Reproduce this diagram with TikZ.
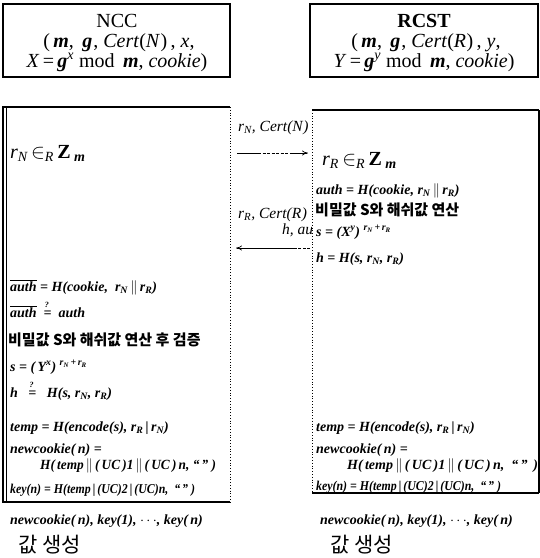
\documentclass[tikz,border=0pt]{standalone}
\usepackage{fontspec}
\setmainfont{Liberation Serif}
\newfontfamily\kr{Noto Sans CJK KR}
\usetikzlibrary{arrows.meta}
\newcommand\bi[1]{\textbf{\textit{#1}}}
\newcommand\sbs[1]{\textsubscript{\bi{#1}}}
\newcommand\dbr{\,$\|$\,}
\newcommand\sbr{\,\textbf{|}\,}
\newcommand\qeq{\rlap{\kern1.2pt\raisebox{9.5pt}{\fontsize{8}{8}\selectfont ?}}=}
\begin{document}
\begin{tikzpicture}[x=1pt,y=-1pt,
  frm/.style={font=\fontsize{14}{16}\selectfont\bfseries\itshape, anchor=base west, inner sep=0},
  frmsm/.style={font=\fontsize{13.5}{15}\selectfont\bfseries\itshape, anchor=base west, inner sep=0, xscale=0.88},
  big/.style={font=\fontsize{20}{22}\selectfont\itshape, anchor=base west, inner sep=0},
  krt/.style={font=\fontsize{15}{17}\selectfont\kr\bfseries, anchor=base west, inner sep=0},
  krb/.style={font=\fontsize{21}{23}\selectfont\kr, anchor=base west, inner sep=0},
  msg/.style={font=\fontsize{15.5}{17}\selectfont\itshape, anchor=base west, inner sep=0},
  head/.style={font=\fontsize{20}{22}\selectfont, anchor=base, inner sep=0},
  thick border/.style={line width=1.8pt},
  dotborder/.style={line width=0.8pt, dotted},
  arr/.style={line width=0.7pt}
]
\useasboundingbox (0,0) rectangle (540,558);

% ---- top boxes ----
\draw[thick border] (3,4) rectangle (230,77);
\node[head] (ncc) at (117,27) {NCC};
\node[head] (ncc2) at (119,47) {(\,\bi{m}, \,\bi{g}\kern1pt, \textit{Cert}(\textit{N}\kern0.5pt)\,, \textit{x},};
\node[head] (ncc3) at (117,67) {\textit{X}\,=\,\bi{g}\textsuperscript{\textit{x}} mod \,\bi{m}, \textit{cookie})};

\draw[thick border] (310,4) rectangle (538,77);
\node[head] (rcst) at (424,27) {\textbf{RCST}};
\node[head] (rcst2) at (426,47) {(\,\bi{m}, \,\bi{g}\kern1pt, \textit{Cert}(\textit{R}\kern0.5pt)\,, \textit{y},};
\node[head] (rcst3) at (424,67) {\textit{Y}\,=\,\bi{g}\textsuperscript{\textit{y}} mod \,\bi{m}, \textit{cookie})};

% ---- left party box ----
\draw[thick border] (230,107) -- (3,107) -- (3,502) -- (230,502);
\draw[line width=0.6pt] (6,107) -- (6,502);
\draw[dotborder] (230,107) -- (230,502);

\node[big] (rn) at (10,158) {\textit{r}\textsubscript{\textit{N}}\,$\in$\textsubscript{\textit{R}}\,\textbf{\textup{Z}}\,\textsubscript{\bi{m}}};
\node[frm] (authb) at (10,291) {$\overline{\mbox{\bfseries\itshape auth}}$ = \bi{H}(\textit{cookie}, \ \textit{r}\sbs{N}\dbr\textit{r}\sbs{R})};
\node[frm] (authq) at (10,317) {$\overline{\mbox{\bfseries\itshape auth}}$ \ \qeq\ \ \bi{auth}};
\node[krt] (krl) at (8,345) {비밀값 S와 해쉬값 연산 후 검증};
\node[frm] (sl) at (10,371) {\bi{s} = (\,\bi{Y}\textsuperscript{\textit{x}}) \textsuperscript{\textit{r}\textsubscript{N}\,+\,\textit{r}\textsubscript{R}}};
\node[frm] (hl) at (10,397) {\bi{h} \ \ \qeq\ \ \ \bi{H}(\bi{s}, \textit{r}\sbs{N}, \textit{r}\sbs{R})};
\node[frm] (tl) at (10,431) {\bi{temp} = \bi{H}(\bi{encode}(\textit{s}), \textit{r}\sbs{R}\sbr\textit{r}\sbs{N})};
\node[frm] (ncl) at (10,453) {\bi{newcookie}(\,\bi{n}) =};
\node[frm, xscale=0.95] (ncl2) at (40,469) {\bi{H}(\,\bi{temp}\dbr(\,\textit{UC}\,)1\dbr(\,\textit{UC}\,)\,\bi{n}, ``\,'' )};
\node[frmsm] (kl) at (10,493) {\bi{key}(\bi{n}) = \bi{H}(\bi{temp}\sbr(\textit{UC})2\sbr(\textit{UC})\bi{n}, \ ``\,'' )};
\node[frm] (outl) at (10,524) {\bi{newcookie}(\,\bi{n}), \bi{key}(1), $\cdots$, \bi{key}(\,\bi{n})};
\node[krb] (genl) at (18,552) {값 생성};

% ---- messages ----
\node[msg] (m1) at (238,131) {\textit{r}\textsubscript{\textit{N}}, \textit{Cert}(\textit{N}\kern0.5pt)};
\node[msg] (m2) at (238,218) {\textit{r}\textsubscript{\textit{R}}, \textit{Cert}(\textit{R}\kern0.5pt)};
\node[msg] (m3) at (282,234) {\textit{h}, \textit{auth}};

\coordinate (a1s) at (237,153);
\coordinate (a1m) at (258,153);
\coordinate (a1n) at (290,153);
\coordinate (a1e) at (308,153);
\draw[arr] (a1s) -- (a1m);
\draw[arr, dashed, dash pattern=on 3pt off 1.5pt] (a1m) -- (a1n);
\draw[arr, -{To[length=6pt,width=5pt]}] (a1n) -- (a1e);

\coordinate (a2s) at (310,248);
\coordinate (a2m) at (296,248);
\coordinate (a2e) at (236,248);
\draw[arr, dashed, dash pattern=on 3pt off 1.5pt] (a2s) -- (a2m);
\draw[arr, -{To[length=6pt,width=5pt]}] (a2m) -- (a2e);

% ---- right party box ----
\fill[white] (312,110) rectangle (539,493);
\draw[thick border] (312,110) -- (539,110);
\draw[thick border] (312,493) -- (539,493);
\draw[line width=1.2pt] (539,110) -- (539,493);
\draw[dotborder] (312,110) -- (312,493);

\node[big] (rr) at (322,165) {\textit{r}\textsubscript{\textit{R}}\,$\in$\textsubscript{\textit{R}}\,\textbf{\textup{Z}}\,\textsubscript{\bi{m}}};
\node[frm] (authr) at (316,194) {\bi{auth} = \bi{H}(\textit{cookie}, \textit{r}\sbs{N}\dbr\textit{r}\sbs{R})};
\node[krt] (krr) at (315,215) {비밀값 S와 해쉬값 연산};
\node[frm] (sr) at (316,236) {\bi{s} = (\bi{X}\textsuperscript{\textit{y}}) \textsuperscript{\textit{r}\textsubscript{N}\,+\,\textit{r}\textsubscript{R}}};
\node[frm] (hr) at (316,262) {\bi{h} = \bi{H}(\bi{s}, \textit{r}\sbs{N}, \textit{r}\sbs{R})};
\node[frm] (tr) at (316,431) {\bi{temp} = \bi{H}(\bi{encode}(\textit{s}), \textit{r}\sbs{R}\sbr\textit{r}\sbs{N})};
\node[frm] (ncr) at (316,453) {\bi{newcookie}(\,\bi{n}) =};
\node[frm] (ncr2) at (347,469) {\bi{H}(\,\bi{temp}\dbr(\,\textit{UC}\,)1\dbr(\,\textit{UC}\,)\,\bi{n}, \ ``\,'' \,)};
\node[frmsm] (kr) at (316,490) {\bi{key}(\bi{n}) = \bi{H}(\bi{temp}\sbr(\textit{UC})2\sbr(\textit{UC})\bi{n}, \ ``\,'' )};
\node[frm] (outr) at (320,524) {\bi{newcookie}(\,\bi{n}), \bi{key}(1), $\cdots$, \bi{key}(\,\bi{n})};
\node[krb] (genr) at (330,552) {값 생성};
\end{tikzpicture}
\end{document}
